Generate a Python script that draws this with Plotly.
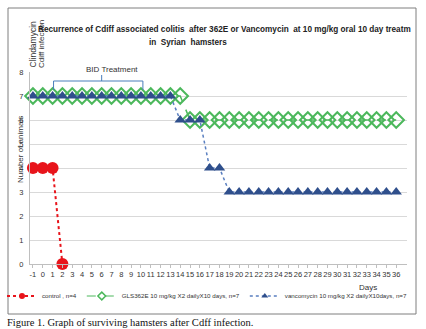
import plotly.graph_objects as go

# Survival counts per day (day -1 = Clindamycin / Cdiff infection)
days = list(range(-1, 37))
control_days = [-1, 0, 1, 2]
control_alive = [4, 4, 4, 0]
gls_alive = [7] * 16 + [6] * 22
vanco_alive = [7] * 15 + [6] * 3 + [4] * 2 + [3] * 18
y_ticks = list(range(0, 9))

W, H = 426, 329
L, R, T, B = 30, 19, 72, 65
PW, PH = W - L - R, H - T - B

FONT = "Liberation Sans, Arial, sans-serif"
NB = "\u00a0"

RED, GREEN, BLUE_M, BLUE_L = "#e8141b", "#4cb85c", "#2f4f8c", "#5a7fc0"


def px(x):
    return (x - L) / PW


def py(y):
    return (H - B - y) / PH


fig = go.Figure()

# data series (drawn green, blue, red so triangles sit above the diamonds)
fig.add_trace(go.Scatter(
    x=days, y=gls_alive, mode="lines+markers", showlegend=False,
    line=dict(color=GREEN, width=1.5, dash="dash"),
    marker=dict(symbol="diamond-open", size=12, color=GREEN, line=dict(width=2)),
    cliponaxis=False,
))
fig.add_trace(go.Scatter(
    x=days, y=vanco_alive, mode="lines+markers", showlegend=False,
    line=dict(color=BLUE_L, width=1.5, dash="dot"),
    marker=dict(symbol="triangle-up", size=10, color=BLUE_M),
    cliponaxis=False,
))
fig.add_trace(go.Scatter(
    x=control_days, y=control_alive, mode="lines+markers", showlegend=False,
    line=dict(color=RED, width=2, dash="dot"),
    marker=dict(symbol="circle", size=12, color=RED),
    cliponaxis=False,
))

# legend entries with small symbols
legend_items = [
    ("control , n=4", dict(color=RED, width=2, dash="dot"), dict(symbol="circle", size=6, color=RED)),
    ("GLS362E 10 mg/kg X2 dailyX10 days, n=7", dict(color=GREEN, width=1, dash="dash"),
     dict(symbol="diamond-open", size=6, color=GREEN, line=dict(width=1.5))),
    ("vancomycin 10 mg/kg X2 dailyX10days, n=7", dict(color=BLUE_L, width=1.5, dash="dot"),
     dict(symbol="triangle-up", size=6, color=BLUE_M)),
]
for name, ln, mk in legend_items:
    fig.add_trace(go.Scatter(x=[None], y=[None], mode="lines+markers", name=name, line=ln, marker=mk))

shapes = [
    # outer frame
    dict(type="rect", xref="paper", yref="paper", x0=px(8), x1=px(416), y0=py(314), y1=py(8),
         line=dict(color="#7f7f7f", width=1), layer="below"),
]
# BID treatment bracket over days 1-10
br_col = "#4a7ebb"
shapes += [
    dict(type="line", xref="x", yref="paper", x0=1.1, x1=1.1, y0=py(90), y1=py(81), line=dict(color=br_col, width=1)),
    dict(type="line", xref="x", yref="paper", x0=10.2, x1=10.2, y0=py(90), y1=py(81), line=dict(color=br_col, width=1)),
    dict(type="line", xref="x", yref="paper", x0=1.1, x1=10.2, y0=py(81), y1=py(81), line=dict(color=br_col, width=1)),
    dict(type="line", xref="x", yref="paper", x0=6.0, x1=6.0, y0=py(81), y1=py(75), line=dict(color=br_col, width=1)),
]

title1 = ("Recurrence of Cdiff associated colitis" + NB * 2 + "after 362E or Vancomycin" + NB * 2
          + "at 10 mg/kg oral 10 day treatm")
title2 = "in" + NB * 2 + "Syrian" + NB * 2 + "hamsters"

ann = [
    dict(text="<b>" + title1 + "</b>", x=px(36), y=py(29), xanchor="left", yanchor="middle",
         font=dict(size=8.2, color="#222", family=FONT)),
    dict(text="<b>" + title2 + "</b>", x=px(147), y=py(42), xanchor="left", yanchor="middle",
         font=dict(size=8.2, color="#222", family=FONT)),
    dict(text="BID Treatment", x=px(112), y=py(70), xanchor="center", yanchor="middle",
         font=dict(size=8, color="#333", family=FONT)),
    dict(text="Clindamycin", x=px(33), y=py(70), xanchor="center", yanchor="bottom", textangle=-90,
         font=dict(size=8.5, color="#333", family=FONT)),
    dict(text="Cdiff infection", x=px(42), y=py(70), xanchor="center", yanchor="bottom", textangle=-90,
         font=dict(size=8, color="#333", family=FONT)),
    dict(text="Number of animals", x=px(20), y=py(150), xanchor="center", yanchor="middle", textangle=-90,
         font=dict(size=8, color="#333", family=FONT)),
    dict(text="Days", x=px(368), y=py(287), xanchor="center", yanchor="middle",
         font=dict(size=8, color="#333", family=FONT)),
    dict(text="Figure 1. Graph of surviving hamsters after Cdff infection.", x=px(5), y=py(322),
         xanchor="left", yanchor="middle",
         font=dict(size=10.5, color="#111", family="Liberation Serif, Times New Roman, serif")),
]
for a in ann:
    a.update(xref="paper", yref="paper", showarrow=False)

fig.update_layout(
    width=W, height=H,
    margin=dict(l=L, r=R, t=T, b=B, autoexpand=False),
    paper_bgcolor="white", plot_bgcolor="white",
    font=dict(family=FONT, color="#333"),
    shapes=shapes, annotations=ann,
    legend=dict(orientation="h", x=px(2), y=py(296), xanchor="left", yanchor="middle",
                font=dict(size=6.2, family=FONT, color="#333"), itemwidth=30,
                tracegroupgap=0, bgcolor="rgba(0,0,0,0)"),
    xaxis=dict(range=[-1.3, 37.1], tickmode="array", tickvals=days, ticktext=[str(d) for d in days],
               tickangle=0, tickfont=dict(size=7.5, family=FONT, color="#333"),
               showgrid=False, zeroline=False, showline=True, linecolor="#bfbfbf",
               ticks="outside", ticklen=3, tickcolor="#bfbfbf"),
    yaxis=dict(range=[0, 8], tickvals=y_ticks, tickfont=dict(size=7.5, family=FONT, color="#333"),
               showgrid=True, gridcolor="#d9d9d9", zeroline=False, showline=True, linecolor="#bfbfbf",
               ticks="", ticklabelstandoff=4),
)

fig.write_html("out.html")
